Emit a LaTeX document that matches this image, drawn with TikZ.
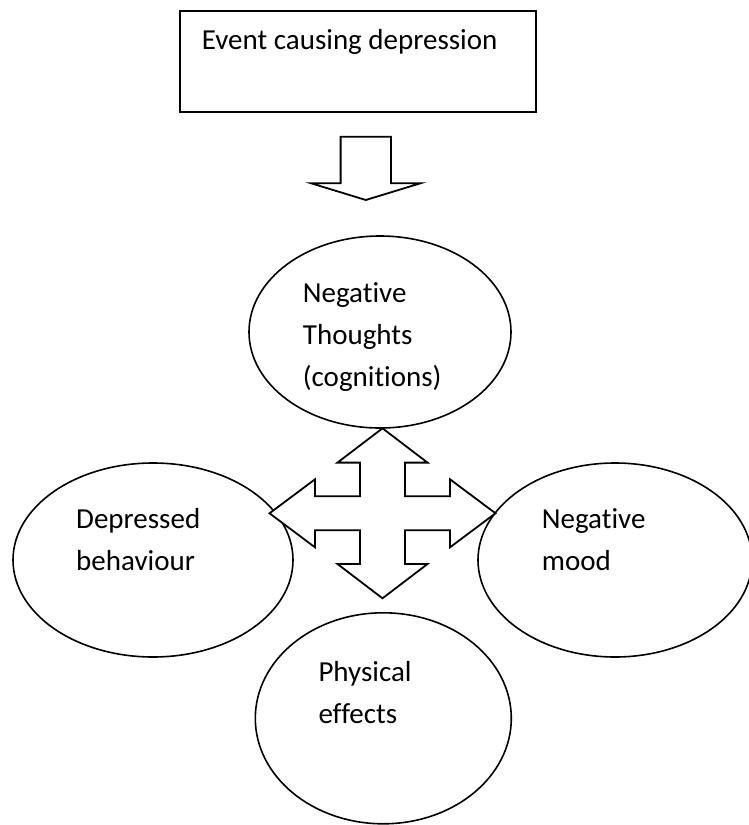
\documentclass[tikz,border=0pt]{standalone}
\usepackage{fontspec}
\setmainfont{Carlito}[Ligatures=NoCommon]
\usetikzlibrary{shapes.geometric}
\begin{document}
\begin{tikzpicture}[x=1pt,y=-1pt,
  lbl/.style={anchor=base west, inner sep=0pt, font=\fontsize{29}{35}\selectfont},
  oval/.style={ellipse, draw, line width=1.6pt, inner sep=0pt},
  blk/.style={draw, line width=1.8pt, fill=white, line join=miter}]
\useasboundingbox (0,0) rectangle (749,825);
% top box
\node[draw, line width=2pt, minimum width=356pt, minimum height=101pt, inner sep=0pt] (box) at (358,61.2) {};
\node[lbl] (t0) at (201.7,49.3) {Event causing depression};
% down block arrow
\coordinate (dn) at (365.8,136.7);
\draw[blk, shift={(dn)}] (-25.2,0) -- (25.2,0) -- (25.2,46.6) -- (54.6,46.6) -- (0,63.3) -- (-54.6,46.6) -- (-25.2,46.6) -- cycle;
% ellipses
\node[oval, minimum width=262pt, minimum height=192pt] (top) at (380,332) {};
\node[oval, minimum width=280pt, minimum height=194pt] (left) at (153,560) {};
\node[oval, minimum width=274pt, minimum height=194pt] (right) at (615,560) {};
\node[oval, minimum width=256pt, minimum height=211pt] (bottom) at (383.3,718.3) {};
% texts
\node[lbl] (t1) at (302.7,302.7) {Negative};
\node[lbl] (t2) at (302.7,344.5) {Thoughts};
\node[lbl] (t3) at (302.7,386.5) {(cognitions)};
\node[lbl] (t4) at (76,528.3) {Depressed};
\node[lbl] (t5) at (76,570) {behaviour};
\node[lbl] (t6) at (541.7,528.3) {Negative};
\node[lbl] (t7) at (541.7,570) {mood};
\node[lbl] (t8) at (318.3,681.7) {Physical};
\node[lbl] (t9) at (318.3,723.3) {effects};
% four-way block arrow
\coordinate (cx) at (382.5,513.3);
\draw[blk, shift={(cx)}] (0,-85) -- (45,-50.7) -- (22.5,-50.7) -- (22.5,-17) -- (67.5,-17) -- (67.5,-34) -- (113,0) -- (67.5,34) -- (67.5,17) -- (22.5,17) -- (22.5,50.7) -- (45,50.7) -- (0,85) -- (-45,50.7) -- (-22.5,50.7) -- (-22.5,17) -- (-67.5,17) -- (-67.5,34) -- (-113,0) -- (-67.5,-34) -- (-67.5,-17) -- (-22.5,-17) -- (-22.5,-50.7) -- (-45,-50.7) -- cycle;
\end{tikzpicture}
\end{document}
